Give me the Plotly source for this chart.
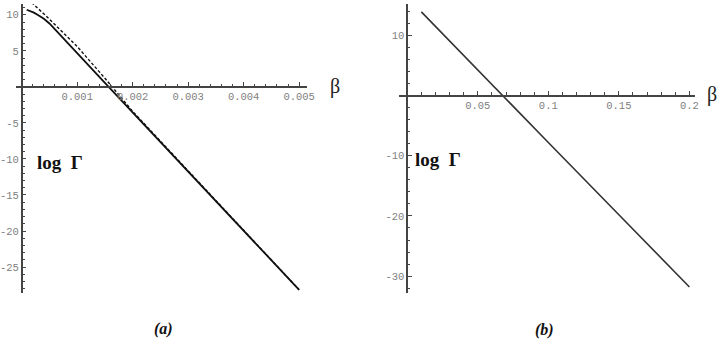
import plotly.graph_objects as go

W, H = 724, 350

# Panel (a) data
beta_a_solid = [0.00009, 0.00015, 0.00022, 0.0003, 0.0004, 0.0005, 0.0006, 0.0008, 0.001, 0.0015, 0.002, 0.003, 0.004, 0.005]
logG_a_solid = [10.7, 10.55, 10.3, 9.95, 9.45, 8.8, 8.0, 6.35, 4.7, 0.55, -3.55, -11.75, -19.95, -28.15]
beta_a_dash = [0.00018, 0.0005, 0.001, 0.0015, 0.002, 0.003, 0.004, 0.005]
logG_a_dash = [11.7, 9.4, 5.6, 1.2, -3.4, -11.7, -19.95, -28.15]

# Panel (b) data
beta_b = [0.01, 0.05, 0.1, 0.15, 0.2]
logG_b = [13.9, 4.2, -7.8, -19.8, -31.8]

xt_a = [0.001, 0.002, 0.003, 0.004, 0.005]
xt_a_text = ["0.001", "0.002", "0.003", "0.004", "0.005"]
yt_a = [10, 5, -5, -10, -15, -20, -25]
xt_b = [0.05, 0.1, 0.15, 0.2]
xt_b_text = ["0.05", "0.1", "0.15", "0.2"]
yt_b = [10, -10, -20, -30]

# ranges / domains (pixel based)
xr_a = [-0.000106, 0.00514]
yr_a = [-28.6, 11.5]
xr_b = [-0.0056, 0.2042]
yr_b = [-32.8, 15.2]
xd_a = [12 / W, 308 / W]
xd_b = [402 / W, 703 / W]
yd = [1 - 293 / H, 1 - 4 / H]


def pos(v, r, d):
    return d[0] + (v - r[0]) / (r[1] - r[0]) * (d[1] - d[0])


fig = go.Figure()
fig.add_trace(go.Scatter(x=beta_a_dash, y=logG_a_dash, mode="lines", line=dict(color="#111", width=1.4, dash="3px,2px"), xaxis="x", yaxis="y", showlegend=False))
fig.add_trace(go.Scatter(x=beta_a_solid, y=logG_a_solid, mode="lines", line=dict(color="#111", width=1.8), xaxis="x", yaxis="y", showlegend=False))
fig.add_trace(go.Scatter(x=beta_b, y=logG_b, mode="lines", line=dict(color="#333", width=1.6), xaxis="x2", yaxis="y2", showlegend=False))

tickfont = dict(family="Liberation Mono", size=10.5, color="#808080")
axcommon = dict(showgrid=False, zeroline=False, showline=True, linecolor="#444", linewidth=1.5,
                ticks="inside", ticklen=4, tickwidth=1.2, tickcolor="#444", tickfont=tickfont,
                tickmode="array", fixedrange=True)

fig.update_layout(
    width=W, height=H, margin=dict(l=0, r=0, t=0, b=0),
    paper_bgcolor="white", plot_bgcolor="rgba(0,0,0,0)",
    xaxis=dict(**axcommon, domain=xd_a, range=xr_a, anchor="free",
               position=pos(0, yr_a, yd), tickvals=xt_a, ticktext=xt_a_text,
               minor=dict(tickmode="linear", tick0=0, dtick=0.0002, ticks="inside", ticklen=2.5, tickcolor="#444")),
    yaxis=dict(**axcommon, domain=yd, range=yr_a, anchor="free",
               position=pos(0, xr_a, xd_a), tickvals=yt_a, ticktext=[str(v) for v in yt_a],
               minor=dict(tickmode="linear", tick0=0, dtick=1, ticks="inside", ticklen=2.5, tickcolor="#444")),
    xaxis2=dict(**axcommon, domain=xd_b, range=xr_b, anchor="free",
                position=pos(0, yr_b, yd), tickvals=xt_b, ticktext=xt_b_text,
                minor=dict(tickmode="linear", tick0=0, dtick=0.01, ticks="inside", ticklen=2.5, tickcolor="#444")),
    yaxis2=dict(**axcommon, domain=yd, range=yr_b, anchor="free",
                position=pos(0, xr_b, xd_b), tickvals=yt_b, ticktext=[str(v) for v in yt_b],
                minor=dict(tickmode="linear", tick0=0, dtick=2, ticks="inside", ticklen=2.5, tickcolor="#444")),
)

serif = "Liberation Serif"
ann = [
    dict(text="β", x=337 / W, y=1 - 86 / H, font=dict(family=serif, size=20, color="#222")),
    dict(text="β", x=720 / W, y=1 - 94 / H, font=dict(family=serif, size=20, color="#222")),
    dict(text="<b>log  Γ</b>", x=57 / W, y=1 - 162 / H, font=dict(family=serif, size=19, color="#111")),
    dict(text="<b>log  Γ</b>", x=441 / W, y=1 - 160 / H, font=dict(family=serif, size=19, color="#111")),
    dict(text="<b><i>(a)</i></b>", x=162 / W, y=1 - 329 / H, font=dict(family=serif, size=16, color="#111")),
    dict(text="<b><i>(b)</i></b>", x=550 / W, y=1 - 330 / H, font=dict(family=serif, size=16, color="#111")),
]
for a in ann:
    fig.add_annotation(xref="paper", yref="paper", showarrow=False, xanchor="center", yanchor="middle", **a)

fig.write_html("out.html")
